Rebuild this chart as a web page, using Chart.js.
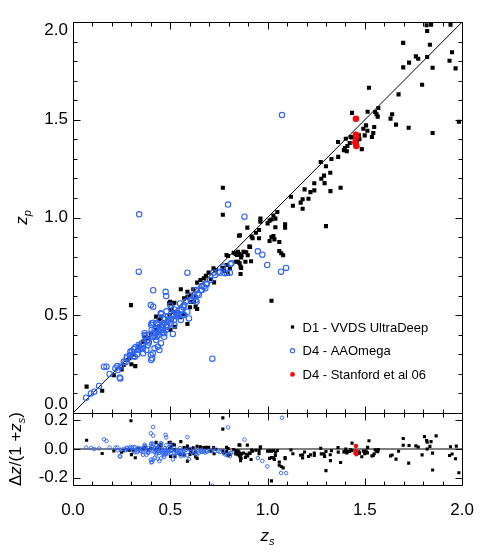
<!DOCTYPE html>
<html>
<head>
<meta charset="utf-8">
<script src="https://cdn.jsdelivr.net/npm/chart.js@4.4.1/dist/chart.umd.min.js"></script>
<style>
  html, body { margin: 0; padding: 0; background: #fff; }
  #wrap { position: relative; width: 491px; height: 552px; }
</style>
</head>
<body>
<div id="wrap"><canvas id="photoz" width="491" height="552"></canvas></div>
<script>
// spectroscopic z (zs), photometric z (zp) and dz/(1+zs)
const zsD1 = [
  0.07, 0.15, 0.21, 0.25, 0.26, 0.28, 0.29, 0.30, 0.32, 0.31,
  0.335, 0.36, 0.37, 0.387, 0.40, 0.427, 0.444, 0.452, 0.427, 0.441,
  0.298, 0.494, 0.499, 0.513, 0.521, 0.501, 0.524, 0.504, 0.496, 0.521,
  0.451, 0.554, 0.588, 0.605, 0.618, 0.63, 0.588, 0.571, 0.621, 0.605,
  0.601, 0.638, 0.63, 0.571, 0.551, 0.588, 0.638, 0.655, 0.672, 0.683,
  0.697, 0.709, 0.725, 0.722, 0.734, 0.769, 0.775, 0.797, 0.789, 0.797,
  0.826, 0.836, 0.848, 0.853, 0.864, 0.876, 0.848, 0.861, 0.853, 0.77,
  0.77, 0.896, 0.858, 0.918, 0.923, 0.963, 0.963, 1.00, 1.01, 1.02,
  1.03, 1.05, 1.04, 1.04, 0.956, 0.94, 0.91, 0.956, 1.01, 1.02,
  1.03, 1.035, 1.06, 1.06, 1.07, 1.08, 1.09, 1.09, 1.13, 1.12,
  1.17, 1.18, 1.18, 1.21, 1.19, 1.22, 1.24, 1.24, 1.276, 1.29,
  1.293, 1.322, 1.323, 1.273, 1.30, 1.328, 1.30, 1.02, 0.843, 0.866,
  0.89, 0.898, 0.906, 0.836, 0.856, 0.886, 0.915, 0.864, 0.861, 0.806,
  0.79, 1.363, 1.362, 1.375, 1.392, 1.397, 1.402, 1.407, 1.41, 1.422,
  1.427, 1.434, 1.434, 1.469, 1.472, 1.459, 1.484, 1.506, 1.492, 1.513,
  1.499, 1.548, 1.543, 1.536, 1.514, 1.553, 1.56, 1.566, 1.569, 1.64,
  1.632, 1.66, 1.725, 1.848, 1.983, 1.521, 1.673, 1.794, 1.697, 1.727,
  1.762, 1.774, 1.82, 1.848, 1.935, 1.966, 1.948, 1.697, 1.834, 1.82,
  1.817, 1.84, 1.94, 1.806, 1.866, 1.97
];
const zpD1 = [
  0.135, 0.114, 0.193, 0.223, 0.246, 0.271, 0.28, 0.249, 0.24, 0.30,
  0.339, 0.365, 0.387, 0.382, 0.407, 0.425, 0.445, 0.484, 0.493, 0.479,
  0.552, 0.561, 0.569, 0.561, 0.564, 0.425, 0.441, 0.527, 0.501, 0.515,
  0.493, 0.633, 0.62, 0.604, 0.633, 0.595, 0.595, 0.587, 0.569, 0.569,
  0.541, 0.532, 0.544, 0.506, 0.49, 0.455, 0.667, 0.68, 0.689, 0.702,
  0.718, 0.684, 0.668, 0.74, 0.731, 0.743, 0.726, 0.715, 0.808, 0.803,
  0.82, 0.813, 0.824, 0.813, 0.796, 0.824, 0.774, 0.748, 0.907, 1.152,
  1.014, 0.948, 0.909, 0.902, 0.894, 0.994, 0.979, 0.97, 0.984, 0.99,
  1.01, 1.028, 0.994, 0.95, 0.936, 0.922, 0.85, 0.894, 0.88, 0.90,
  0.905, 0.888, 0.875, 0.829, 0.817, 0.807, 0.965, 0.948, 1.06, 1.106,
  1.076, 1.093, 1.045, 1.096, 1.144, 1.13, 1.139, 1.175, 1.198, 1.214,
  1.176, 1.229, 1.135, 1.284, 1.262, 1.299, 0.956, 0.574, 0.808, 0.807,
  0.822, 0.807, 0.851, 0.774, 0.766, 0.774, 0.776, 0.742, 0.711, 0.74,
  0.757, 1.31, 1.386, 1.152, 1.344, 1.355, 1.403, 1.339, 1.366, 1.381,
  1.412, 1.41, 1.535, 1.42, 1.40, 1.386, 1.35, 1.471, 1.454, 1.444,
  1.42, 1.463, 1.432, 1.412, 1.541, 1.54, 1.528, 1.516, 1.56, 1.528,
  1.506, 1.475, 1.459, 1.432, 1.49, 1.664, 1.63, 1.679, 1.768, 1.792,
  1.824, 1.812, 1.821, 1.766, 1.802, 1.763, 1.845, 1.893, 1.884, 1.954,
  1.983, 1.986, 1.986, 2.047, 2.127, 2.03
];
const dzD1 = [
  0.061, -0.031, -0.014, -0.022, -0.011, -0.007, -0.008, -0.039, -0.061, -0.008,
  0.003, 0.004, 0.012, -0.004, 0.005, -0.001, 0.001, 0.022, 0.046, 0.026,
  0.196, 0.045, 0.047, 0.032, 0.028, -0.051, -0.054, 0.015, 0.003, -0.004,
  0.029, 0.051, 0.020, -0.001, 0.009, -0.021, 0.004, 0.010, -0.032, -0.022,
  -0.037, -0.065, -0.053, -0.041, -0.039, -0.084, 0.018, 0.015, 0.010, 0.011,
  0.012, -0.015, -0.033, 0.010, -0.002, -0.015, -0.028, -0.046, 0.011, 0.003,
  -0.003, -0.013, -0.013, -0.022, -0.036, -0.028, -0.040, -0.061, 0.029, 0.216,
  0.138, 0.027, 0.027, -0.008, -0.015, 0.016, 0.008, -0.015, -0.013, -0.015,
  -0.010, -0.011, -0.023, -0.044, -0.010, -0.009, -0.031, -0.032, -0.065, -0.059,
  -0.062, -0.072, -0.090, -0.112, -0.122, -0.131, -0.060, -0.068, -0.033, -0.007,
  -0.043, -0.040, -0.062, -0.052, -0.021, -0.041, -0.045, -0.029, -0.034, -0.033,
  -0.051, -0.040, -0.081, 0.005, -0.017, -0.012, -0.150, -0.221, -0.019, -0.032,
  -0.036, -0.048, -0.029, -0.034, -0.048, -0.059, -0.073, -0.065, -0.081, -0.037,
  -0.018, -0.022, 0.010, -0.094, -0.020, -0.018, 0.000, -0.028, -0.018, -0.017,
  -0.006, -0.010, 0.041, -0.020, -0.029, -0.030, -0.054, -0.014, -0.015, -0.027,
  -0.032, -0.033, -0.044, -0.049, 0.011, -0.005, -0.013, -0.019, -0.004, -0.042,
  -0.048, -0.070, -0.098, -0.146, -0.165, 0.057, -0.016, -0.041, 0.026, 0.024,
  0.022, 0.014, 0.000, -0.029, -0.045, -0.068, -0.035, 0.073, 0.018, 0.048,
  0.059, 0.051, 0.016, 0.086, 0.091, 0.020
];

const zsD4 = [
  0.067, 0.092, 0.109, 0.134, 0.159, 0.172, 0.188, 0.218, 0.243, 0.231,
  0.276, 0.293, 0.318, 0.302, 0.335, 0.352, 0.360, 0.377, 0.385, 0.402,
  0.410, 0.368, 0.402, 0.410, 0.427, 0.436, 0.452, 0.469, 0.477, 0.486,
  0.503, 0.519, 0.533, 0.536, 0.400, 0.469, 0.444, 0.419, 0.338, 0.340,
  0.588, 0.412, 0.476, 0.479, 0.716, 0.454, 0.471, 0.437, 0.504, 0.521,
  0.546, 0.554, 0.571, 0.568, 0.630, 0.647, 0.663, 0.680, 0.688, 0.705,
  0.730, 0.755, 0.780, 0.814, 0.806, 0.513, 0.370, 0.404, 0.429, 0.420,
  0.454, 0.353, 0.797, 0.881, 0.950, 0.973, 0.998, 1.069, 1.095, 0.790,
  0.810, 1.074, 0.228, 0.240, 0.245, 0.261, 0.278, 0.295, 0.312, 0.320,
  0.337, 0.362, 0.370, 0.387, 0.400, 0.407, 0.412, 0.429, 0.446, 0.462,
  0.479, 0.487, 0.504, 0.538, 0.554, 0.563, 0.571, 0.588, 0.596, 0.605,
  0.621, 0.630, 0.635, 0.658, 0.672, 0.685, 0.722, 0.747, 0.772, 0.412,
  0.404, 0.451, 0.33, 0.345, 0.39, 0.43, 0.44, 0.46, 0.49, 0.52,
  0.55, 0.60, 0.34, 0.36, 0.38, 0.39, 0.41, 0.42, 0.43, 0.44,
  0.45, 0.46, 0.47, 0.48, 0.50, 0.51, 0.53, 0.56, 0.58, 0.61,
  0.64, 0.66, 0.27, 0.31, 0.48, 0.50
];
const zpD4 = [
  0.078, 0.100, 0.109, 0.138, 0.237, 0.237, 0.200, 0.229, 0.177, 0.220,
  0.288, 0.297, 0.288, 0.314, 0.322, 0.331, 0.305, 0.322, 0.348, 0.271,
  0.305, 0.408, 0.450, 0.408, 0.373, 0.339, 0.357, 0.390, 0.425, 0.441,
  0.459, 0.476, 0.493, 0.510, 0.552, 0.408, 0.322, 0.331, 0.723, 1.016,
  0.718, 0.628, 0.620, 0.598, 0.278, 0.506, 0.479, 0.450, 0.484, 0.450,
  0.501, 0.476, 0.501, 0.541, 0.578, 0.604, 0.629, 0.638, 0.658, 0.680,
  0.706, 0.718, 0.715, 0.766, 0.718, 0.404, 0.392, 0.425, 0.411, 0.390,
  0.425, 0.357, 1.066, 1.004, 0.827, 0.810, 0.757, 0.723, 0.742, 0.718,
  0.762, 1.524, 0.240, 0.181, 0.237, 0.262, 0.280, 0.314, 0.326, 0.336,
  0.348, 0.357, 0.399, 0.373, 0.297, 0.280, 0.462, 0.433, 0.476, 0.425,
  0.441, 0.493, 0.535, 0.501, 0.527, 0.501, 0.552, 0.518, 0.484, 0.578,
  0.595, 0.629, 0.569, 0.629, 0.646, 0.663, 0.718, 0.723, 0.749, 0.544,
  0.459, 0.510, 0.30, 0.33, 0.40, 0.46, 0.40, 0.45, 0.47, 0.53,
  0.56, 0.60, 0.34, 0.33, 0.37, 0.36, 0.39, 0.43, 0.39, 0.42,
  0.44, 0.41, 0.46, 0.45, 0.48, 0.50, 0.51, 0.53, 0.57, 0.58,
  0.61, 0.65, 0.26, 0.29, 0.52, 0.55
];
const dzD4 = [
  0.010, 0.007, 0.000, 0.004, 0.067, 0.055, 0.010, 0.009, -0.053, -0.009,
  0.009, 0.003, -0.023, 0.009, -0.010, -0.016, -0.040, -0.040, -0.027, -0.093,
  -0.074, 0.029, 0.034, -0.001, -0.038, -0.068, -0.065, -0.054, -0.035, -0.030,
  -0.029, -0.028, -0.026, -0.017, 0.109, -0.042, -0.084, -0.062, 0.288, 0.504,
  0.082, 0.153, 0.098, 0.080, -0.255, 0.036, 0.005, 0.009, -0.013, -0.047,
  -0.029, -0.050, -0.045, -0.017, -0.032, -0.026, -0.020, -0.025, -0.018, -0.015,
  -0.014, -0.021, -0.037, -0.026, -0.049, -0.072, 0.016, 0.015, -0.013, -0.021,
  -0.020, 0.003, 0.150, 0.065, -0.063, -0.083, -0.121, -0.167, -0.168, -0.040,
  -0.027, 0.217, 0.010, -0.048, -0.006, 0.001, 0.002, 0.015, 0.011, 0.012,
  0.008, -0.004, 0.021, -0.010, -0.074, -0.090, 0.035, 0.003, 0.021, -0.025,
  -0.026, 0.004, 0.021, -0.024, -0.017, -0.040, -0.012, -0.044, -0.070, -0.017,
  -0.016, -0.001, -0.040, -0.017, -0.016, -0.013, -0.002, -0.014, -0.013, 0.093,
  0.039, 0.041, -0.023, -0.011, 0.007, 0.021, -0.028, -0.007, -0.013, 0.007,
  0.006, 0.000, 0.000, -0.022, -0.007, -0.022, -0.014, 0.007, -0.028, -0.014,
  -0.007, -0.034, -0.007, -0.020, -0.013, -0.007, -0.013, -0.019, -0.006, -0.019,
  -0.018, -0.006, -0.008, -0.015, 0.027, 0.033
];

const zsSt = [1.454, 1.454, 1.456, 1.451, 1.456];
const zpSt = [1.505, 1.423, 1.412, 1.383, 1.366];
const dzSt = [0.021, -0.013, -0.018, -0.028, -0.037];

// one-to-one line and zero line
const lineZs = [0, 2];
const lineZp = [0, 2];
const lineDz = [0, 0];

const legendLabels = ['D1 - VVDS UltraDeep', 'D4 - AAOmega', 'D4 - Stanford et al 06'];

const zsTicks = [0, 0.5, 1, 1.5, 2];
const zsMinorTicks = [0.1, 0.2, 0.3, 0.4, 0.6, 0.7, 0.8, 0.9, 1.1, 1.2, 1.3, 1.4, 1.6, 1.7, 1.8, 1.9];
const zpTicks = [0, 0.5, 1, 1.5, 2];
const zpMinorTicks = [0.1, 0.2, 0.3, 0.4, 0.6, 0.7, 0.8, 0.9, 1.1, 1.2, 1.3, 1.4, 1.6, 1.7, 1.8, 1.9];
const dzTicks = [-0.2, 0, 0.2];

const FONT = "'Liberation Sans', Arial, Helvetica, sans-serif";
const TICK_FONT = { family: FONT, size: 17, lineHeight: 1 };
const BLUE = 'rgb(45,100,245)';
const RED = 'rgb(245,10,10)';
const MAJOR = 7, MINOR = 4;

const pts = (xs, ys) => xs.map((v, i) => ({ x: v, y: ys[i] }));

// frame + inward ticks on all four sides of both panels
const panelFrames = {
    id: 'panelFrames',
    afterDraw(chart) {
        const ctx = chart.ctx;
        const { x, y, y2 } = chart.scales;
        const px = v => Math.round(v) + 0.5;
        const seg = (a, b, c, d) => { ctx.moveTo(a, b); ctx.lineTo(c, d); };
        ctx.save();
        ctx.strokeStyle = '#000';
        ctx.lineWidth = 1;
        ctx.beginPath();
        [[y, zpTicks, zpMinorTicks], [y2, dzTicks, []]].forEach(([ys, major, minor]) => {
            const L = px(x.left), R = px(x.right), T = px(ys.top), B = px(ys.bottom);
            ctx.rect(L, T, R - L, B - T);
            const xt = (list, len) => list.forEach(v => {
                const X = px(x.getPixelForValue(v));
                seg(X, B, X, B - len);
                seg(X, T, X, T + len);
            });
            const yt = (list, len) => list.forEach(v => {
                const Y = px(ys.getPixelForValue(v));
                seg(L, Y, L + len, Y);
                seg(R, Y, R - len, Y);
            });
            xt(zsTicks, MAJOR); xt(zsMinorTicks, MINOR);
            yt(major, MAJOR); yt(minor, MINOR);
        });
        ctx.stroke();
        ctx.restore();
    }
};

// axis titles with italic z and subscripts
function drawRuns(ctx, runs, cx, cy, rot) {
    const fontOf = r => `${r.it ? 'italic ' : ''}${r.sub ? 11 : 17}px ${FONT}`;
    ctx.save();
    ctx.translate(cx, cy);
    ctx.rotate(rot);
    ctx.fillStyle = '#000';
    ctx.textAlign = 'left';
    ctx.textBaseline = 'alphabetic';
    let total = 0;
    runs.forEach(r => { ctx.font = fontOf(r); total += ctx.measureText(r.t).width; });
    let pos = -total / 2;
    runs.forEach(r => {
        ctx.font = fontOf(r);
        ctx.fillText(r.t, pos, r.sub ? 4 : 0);
        pos += ctx.measureText(r.t).width;
    });
    ctx.restore();
}

const axisTitles = {
    id: 'axisTitles',
    afterDraw(chart) {
        const { x, y, y2 } = chart.scales;
        const ctx = chart.ctx;
        drawRuns(ctx, [{ t: 'z', it: true }, { t: 'p', it: true, sub: true }],
            27, (y.top + y.bottom) / 2, -Math.PI / 2);
        drawRuns(ctx, [{ t: '\u0394' }, { t: 'z', it: true }, { t: '/(1 +' },
            { t: 'z', it: true }, { t: 's', it: true, sub: true }, { t: ')' }],
            21, (y2.top + y2.bottom) / 2, -Math.PI / 2);
        drawRuns(ctx, [{ t: 'z', it: true }, { t: 's', it: true, sub: true }],
            (x.left + x.right) / 2, 541, 0);
    }
};

// legend inside the upper panel
const insetLegend = {
    id: 'insetLegend',
    afterDraw(chart) {
        const ctx = chart.ctx;
        const markerX = 292.5, firstY = 327, step = 23.7;
        const sizes = [2.3, 2.1, 2.4];
        ctx.save();
        legendLabels.forEach((label, i) => {
            const ds = chart.data.datasets[i];
            const yy = firstY + i * step;
            ctx.fillStyle = ds.backgroundColor;
            ctx.strokeStyle = ds.borderColor || ds.backgroundColor;
            ctx.lineWidth = ds.borderWidth;
            Chart.helpers.drawPoint(ctx, {
                pointStyle: ds.pointStyle, radius: sizes[i], borderWidth: ds.borderWidth, rotation: 0
            }, markerX, yy);
            ctx.fillStyle = '#000';
            ctx.font = `13px ${FONT}`;
            ctx.textBaseline = 'middle';
            ctx.textAlign = 'left';
            ctx.fillText(label, markerX + 10, yy + 1);
        });
        ctx.restore();
    }
};

const datasets = [
    { label: legendLabels[0], data: pts(zsD1, zpD1), yAxisID: 'y', pointStyle: 'rect',
      pointRadius: 2.9, backgroundColor: '#000', borderColor: '#000', borderWidth: 0, order: 3 },
    { label: legendLabels[1], data: pts(zsD4, zpD4), yAxisID: 'y', pointStyle: 'circle',
      pointRadius: 2.7, backgroundColor: 'rgba(0,0,0,0)', borderColor: BLUE, borderWidth: 1.1, order: 2 },
    { label: legendLabels[2], data: pts(zsSt, zpSt), yAxisID: 'y', pointStyle: 'circle',
      pointRadius: 3.3, backgroundColor: RED, borderColor: RED, borderWidth: 0, order: 1 },
    { data: pts(zsD1, dzD1), yAxisID: 'y2', pointStyle: 'rect',
      pointRadius: 2.2, backgroundColor: '#000', borderColor: '#000', borderWidth: 0, order: 3 },
    { data: pts(zsD4, dzD4), yAxisID: 'y2', pointStyle: 'circle',
      pointRadius: 1.8, backgroundColor: 'rgba(0,0,0,0)', borderColor: BLUE, borderWidth: 0.9, order: 2 },
    { data: pts(zsSt, dzSt), yAxisID: 'y2', pointStyle: 'circle',
      pointRadius: 2.2, backgroundColor: RED, borderColor: RED, borderWidth: 0, order: 1 },
    { data: pts(lineZs, lineZp), yAxisID: 'y', showLine: true, pointRadius: 0,
      borderColor: '#000', borderWidth: 1, order: 5 },
    { data: pts(lineZs, lineDz), yAxisID: 'y2', showLine: true, pointRadius: 0,
      borderColor: '#000', borderWidth: 1, order: 5 }
];

const tickStyle = { font: TICK_FONT, color: '#000', autoSkip: false, maxRotation: 0 };

new Chart(document.getElementById('photoz'), {
    type: 'scatter',
    data: { datasets: datasets },
    options: {
        responsive: false,
        animation: false,
        events: [],
        layout: { padding: { top: 22, right: 20, bottom: 0, left: 0 } },
        plugins: { legend: { display: false }, tooltip: { enabled: false } },
        scales: {
            x: {
                type: 'linear', position: 'bottom', min: 0, max: 2,
                grid: { display: false, drawTicks: false }, border: { display: false },
                afterBuildTicks: s => { s.ticks = zsTicks.map(v => ({ value: v })); },
                afterFit: s => { s.height = 67; },
                ticks: Object.assign({}, tickStyle, { padding: 17, callback: v => v.toFixed(1) })
            },
            y: {
                type: 'linear', position: 'left', stack: 'panels', stackWeight: 391, weight: 1,
                min: 0, max: 2,
                grid: { display: false, drawTicks: false }, border: { display: false },
                afterBuildTicks: s => { s.ticks = zpTicks.map(v => ({ value: v })); },
                afterFit: s => { s.width = 73; },
                ticks: Object.assign({}, tickStyle, {
                    padding: 5,
                    callback: v => {
                        const s = v.toFixed(1);
                        if (v === zpTicks[zpTicks.length - 1]) return ['', s];
                        if (v === zpTicks[0]) return [s, ''];
                        return s;
                    }
                })
            },
            y2: {
                type: 'linear', position: 'left', stack: 'panels', stackWeight: 72, weight: 0,
                min: -0.25, max: 0.25,
                grid: { display: false, drawTicks: false }, border: { display: false },
                afterBuildTicks: s => { s.ticks = dzTicks.map(v => ({ value: v })); },
                afterFit: s => { s.width = 73; },
                ticks: Object.assign({}, tickStyle, { padding: 5, callback: v => v.toFixed(1) })
            }
        }
    },
    plugins: [panelFrames, axisTitles, insetLegend]
});
</script>
</body>
</html>
